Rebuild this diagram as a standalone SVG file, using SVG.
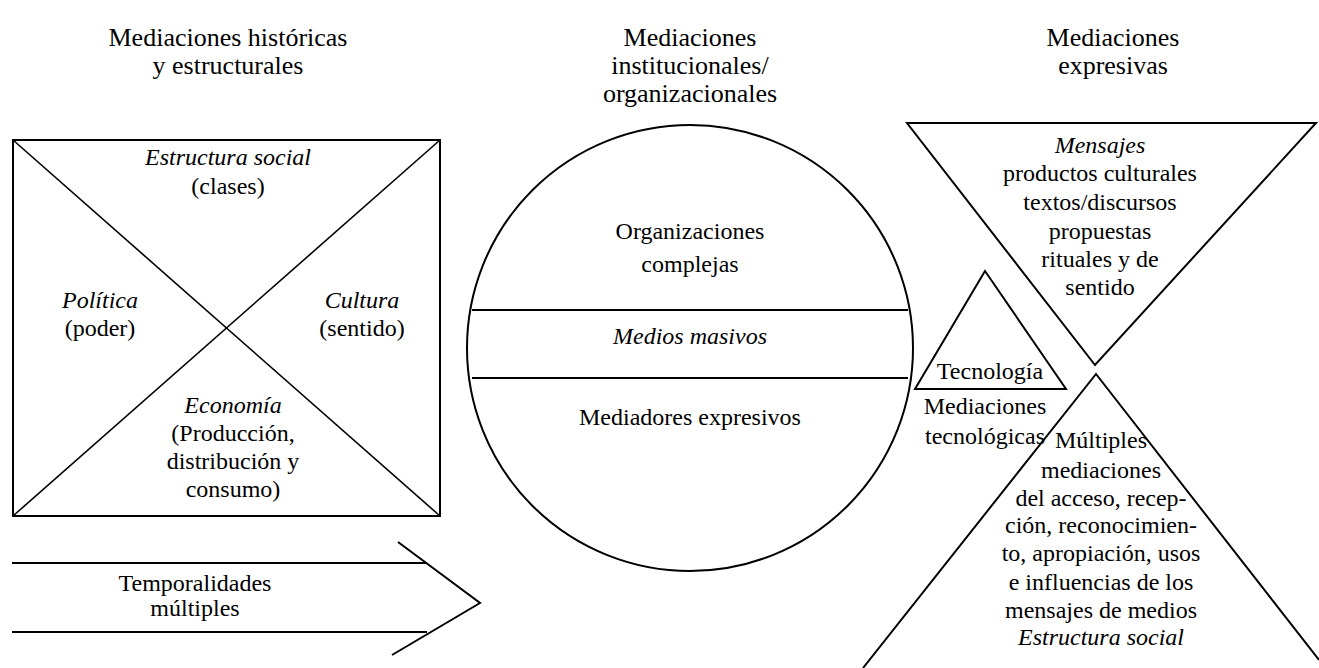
<svg xmlns="http://www.w3.org/2000/svg" width="1319" height="668" viewBox="0 0 1319 668">
<rect width="1319" height="668" fill="#fff"/>
<g id="titles" text-anchor="middle" fill="#000">
<text x="228" y="46" font-size="26" font-family="Liberation Serif">Mediaciones históricas</text>
<text x="228" y="74" font-size="26" font-family="Liberation Serif">y estructurales</text>
<text x="690" y="46" font-size="26" font-family="Liberation Serif">Mediaciones</text>
<text x="690" y="74" font-size="26" font-family="Liberation Serif">institucionales/</text>
<text x="690" y="102" font-size="26" font-family="Liberation Serif">organizacionales</text>
<text x="1113" y="46" font-size="26" font-family="Liberation Serif">Mediaciones</text>
<text x="1113" y="74" font-size="26" font-family="Liberation Serif">expresivas</text>
</g>
<g id="historicas" text-anchor="middle" fill="#000">
<rect x="13" y="140" width="427" height="376" fill="none" stroke="#000" stroke-width="2"/>
<line x1="13" y1="140" x2="440" y2="516" stroke="#000" stroke-width="1.6"/>
<line x1="440" y1="140" x2="13" y2="516" stroke="#000" stroke-width="1.6"/>
<text x="228" y="165" font-size="24" font-style="italic" font-family="Liberation Serif">Estructura social</text>
<text x="228" y="194" font-size="24" font-family="Liberation Serif">(clases)</text>
<text x="100" y="308" font-size="24" font-style="italic" font-family="Liberation Serif">Política</text>
<text x="100" y="336" font-size="24" font-family="Liberation Serif">(poder)</text>
<text x="362" y="308" font-size="24" font-style="italic" font-family="Liberation Serif">Cultura</text>
<text x="362" y="336" font-size="24" font-family="Liberation Serif">(sentido)</text>
<text x="233" y="413" font-size="24" font-style="italic" font-family="Liberation Serif">Economía</text>
<text x="233" y="441" font-size="24" font-family="Liberation Serif">(Producción,</text>
<text x="233" y="469" font-size="24" font-family="Liberation Serif">distribución y</text>
<text x="233" y="497" font-size="24" font-family="Liberation Serif">consumo)</text>
</g>
<g id="temporalidades" text-anchor="middle" fill="#000">
<line x1="12" y1="563" x2="427" y2="563" stroke="#000" stroke-width="2"/>
<line x1="12" y1="632" x2="427" y2="632" stroke="#000" stroke-width="2"/>
<polyline points="398,542 480,603 392,655" fill="none" stroke="#000" stroke-width="2"/>
<text x="195" y="591" font-size="24" font-family="Liberation Serif">Temporalidades</text>
<text x="195" y="616" font-size="24" font-family="Liberation Serif">múltiples</text>
</g>
<g id="institucionales" text-anchor="middle" fill="#000">
<circle cx="690" cy="348" r="223" fill="none" stroke="#000" stroke-width="2"/>
<line x1="472" y1="310" x2="908" y2="310" stroke="#000" stroke-width="2"/>
<line x1="472" y1="378" x2="908" y2="378" stroke="#000" stroke-width="2"/>
<text x="690" y="239" font-size="24" font-family="Liberation Serif">Organizaciones</text>
<text x="690" y="272" font-size="24" font-family="Liberation Serif">complejas</text>
<text x="690" y="344" font-size="24" font-style="italic" font-family="Liberation Serif">Medios masivos</text>
<text x="690" y="425" font-size="24" font-family="Liberation Serif">Mediadores expresivos</text>
</g>
<g id="mensajes" text-anchor="middle" fill="#000">
<polygon points="907,123 1316,123 1095,365" fill="none" stroke="#000" stroke-width="2"/>
<text x="1100" y="153" font-size="24" font-style="italic" font-family="Liberation Serif">Mensajes</text>
<text x="1100" y="181" font-size="24" font-family="Liberation Serif">productos culturales</text>
<text x="1100" y="210" font-size="24" font-family="Liberation Serif">textos/discursos</text>
<text x="1100" y="239" font-size="24" font-family="Liberation Serif">propuestas</text>
<text x="1100" y="267" font-size="24" font-family="Liberation Serif">rituales y de</text>
<text x="1100" y="295" font-size="24" font-family="Liberation Serif">sentido</text>
</g>
<g id="tecnologia" text-anchor="middle" fill="#000">
<polygon points="985,271 915,389 1066,389" fill="none" stroke="#000" stroke-width="2"/>
<text x="990" y="379" font-size="24" font-family="Liberation Serif">Tecnología</text>
<text x="985" y="414" font-size="24" font-family="Liberation Serif">Mediaciones</text>
<text x="985" y="444" font-size="24" font-family="Liberation Serif">tecnológicas</text>
</g>
<g id="recepcion" text-anchor="middle" fill="#000">
<polyline points="863,668 1096,374 1319,660" fill="none" stroke="#000" stroke-width="2"/>
<text x="1101" y="448" font-size="24" font-family="Liberation Serif">Múltiples</text>
<text x="1101" y="478" font-size="24" font-family="Liberation Serif">mediaciones</text>
<text x="1101" y="506" font-size="24" font-family="Liberation Serif">del acceso, recep-</text>
<text x="1101" y="533" font-size="24" font-family="Liberation Serif">ción, reconocimien-</text>
<text x="1101" y="561" font-size="24" font-family="Liberation Serif">to, apropiación, usos</text>
<text x="1101" y="590" font-size="24" font-family="Liberation Serif">e influencias de los</text>
<text x="1101" y="618" font-size="24" font-family="Liberation Serif">mensajes de medios</text>
<text x="1101" y="645" font-size="24" font-style="italic" font-family="Liberation Serif">Estructura social</text>
</g>
<g id="connectors"/>
</svg>
